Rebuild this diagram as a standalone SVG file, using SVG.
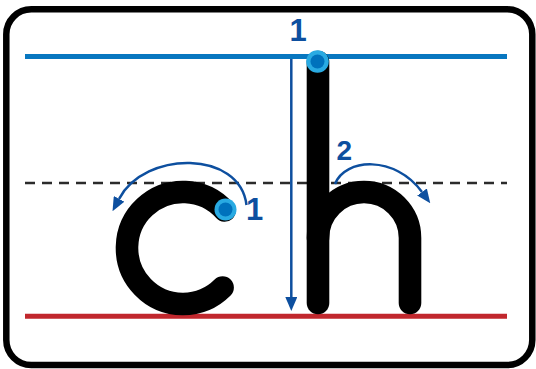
<svg xmlns="http://www.w3.org/2000/svg" width="536" height="369" viewBox="0 0 536 369">
<defs>
<marker id="ah" markerUnits="userSpaceOnUse" markerWidth="14" markerHeight="12" refX="0" refY="6" orient="auto" viewBox="0 0 14 12"><path d="M0,0 L14,6 L0,12 z" fill="#0d4f9f"/></marker>
</defs>
<style>
.stroke{fill:none;stroke:#000;stroke-width:22.6;stroke-linecap:round;stroke-linejoin:round}
.arrow{fill:none;stroke:#0d4f9f;stroke-width:2.5;marker-end:url(#ah)}
.lbl{font-family:"Liberation Sans",Arial,sans-serif;font-weight:bold;fill:#0d4f9f}
.dot-o{fill:#29aae2}
.dot-i{fill:#0071bc}
</style>
<rect x="6.3" y="9.3" width="526" height="355.7" rx="25" ry="25" fill="#fff" stroke="#000" stroke-width="6.5"/>
<g id="guides">
<line x1="25" y1="56.5" x2="507" y2="56.5" stroke="#0877c0" stroke-width="5"/>
<line x1="25" y1="183" x2="507" y2="183" stroke="#2b2b2b" stroke-width="2.5" stroke-dasharray="10 7"/>
<line x1="25" y1="316.3" x2="507" y2="316.3" stroke="#c1272d" stroke-width="5"/>
</g>
<g id="letter-c">
<path class="stroke" d="M224.6 210.5 A56 56 0 1 0 222.6 287.6"/>
</g>
<g id="letter-h">
<path class="stroke" d="M318 62 L318 303"/>
<path class="stroke" d="M318 238 A46 46 0 0 1 410 238 L410 303"/>
</g>
<g id="connectors">
<path class="arrow" d="M291.3 59 L291.3 297"/>
<path class="arrow" d="M246.5 205 C240 150 145 150 119.1 198.8"/>
<path class="arrow" d="M335 184 C345 158 395 155 422 192"/>
</g>
<g id="start-dots">
<circle class="dot-o" cx="317.5" cy="61.5" r="11.3"/>
<circle class="dot-i" cx="317.5" cy="61.5" r="7"/>
<circle class="dot-o" cx="225.5" cy="209.5" r="11"/>
<circle class="dot-i" cx="225.5" cy="209.5" r="7"/>
</g>
<g id="labels">
<text class="lbl" x="289.5" y="41" font-size="31">1</text>
<text class="lbl" x="246" y="220" font-size="31">1</text>
<text class="lbl" x="336.5" y="160" font-size="28">2</text>
</g>
</svg>
